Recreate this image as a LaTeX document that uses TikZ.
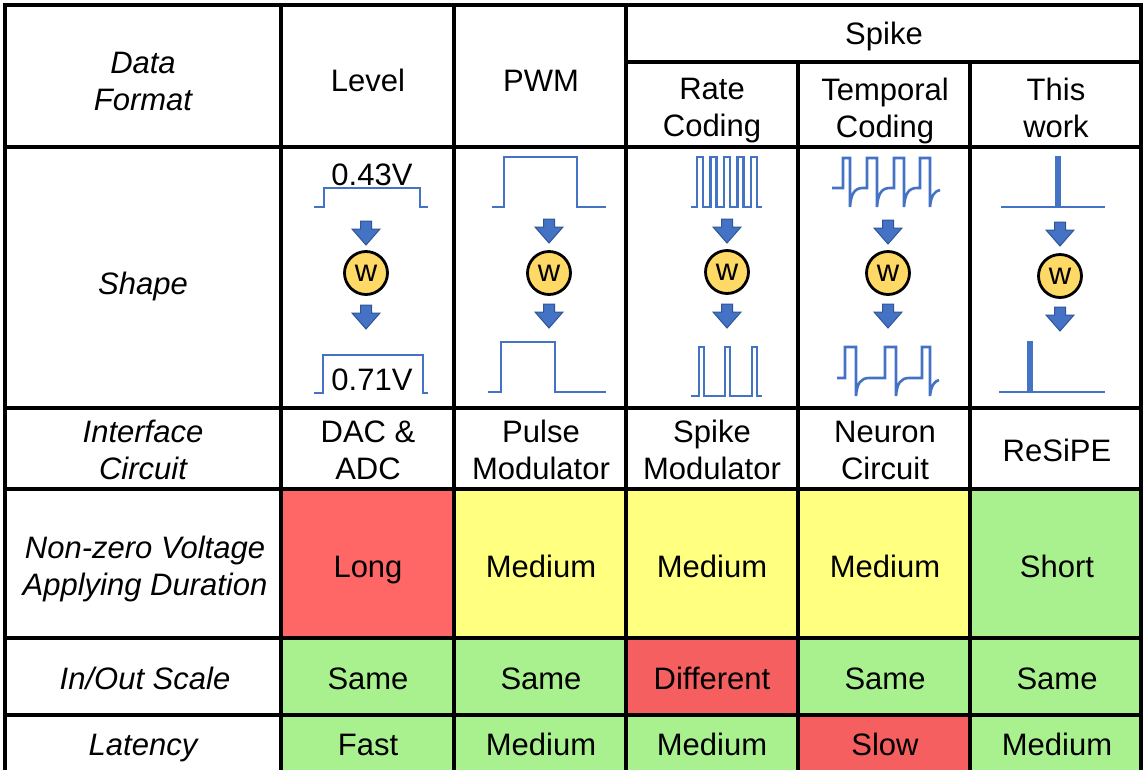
\documentclass[tikz,border=0pt]{standalone}
\usepackage{fontspec}
\setmainfont{Liberation Sans}
\definecolor{cellred}{RGB}{255,102,102}
\definecolor{cellredb}{RGB}{245,95,95}
\definecolor{cellyellow}{RGB}{255,255,128}
\definecolor{cellgreen}{RGB}{169,241,143}
\definecolor{waveblue}{RGB}{68,114,196}
\definecolor{arrowedge}{RGB}{47,85,151}
\definecolor{weightfill}{RGB}{255,217,102}
\newcommand\cellfont{\fontsize{31}{37}\selectfont}
\tikzset{
  grid/.style={line width=4pt, line cap=rect},
  celltext/.style={font=\cellfont, inner sep=0pt},
  one/.style={celltext, text height=22.2pt, text depth=0pt},
  two/.style={celltext, align=center},
  lab/.style={font=\cellfont\itshape},
  wave/.style={draw=waveblue, line width=2.6pt, line join=miter},
  blockarrow/.style={fill=waveblue, draw=arrowedge, line width=1pt, line join=miter},
  weight/.style={circle, fill=weightfill, draw=black, line width=2.8pt,
    minimum size=43pt, inner sep=0pt, font=\cellfont},
  dnarrow/.pic={\filldraw[blockarrow] (-5.5,0) -- (5.5,0) -- (5.5,8) -- (14,8)
    -- (0,24) -- (-14,8) -- (-5.5,8) -- cycle;}
}
\begin{document}
\begin{tikzpicture}[x=1pt,y=-1pt]
\useasboundingbox (0,0) rectangle (1144,769);
\clip (0,0) rectangle (1144,769);
\fill[white] (0,0) rectangle (1144,769);

% coloured rating cells
\fill[cellred]    (281,489) rectangle (454,638);
\fill[cellyellow] (454,489) rectangle (970,638);
\fill[cellgreen]  (970,489) rectangle (1141,638);
\fill[cellgreen]  (281,638) rectangle (1141,775);
\fill[cellredb]   (626,638) rectangle (798,715);
\fill[cellredb]   (798,715) rectangle (970,775);

% table rules
\draw[grid] (5,4.5) -- (1141,4.5);
\draw[grid] (5,4.5) -- (5,775);
\draw[grid] (1141,4.5) -- (1141,775);
\draw[grid] (281,4.5) -- (281,775);
\draw[grid] (454,4.5) -- (454,775);
\draw[grid] (626,4.5) -- (626,775);
\draw[grid] (798,62) -- (798,775);
\draw[grid] (970,62) -- (970,775);
\draw[grid] (626,62) -- (1141,62);
\foreach \r in {147,408,489,638,715} \draw[grid] (5,\r) -- (1141,\r);

% header
\node[two,lab] (hdr) at (143,81) {Data\\Format};
\node[one] (lvl) at (368,80) {Level};
\node[one] (pwm) at (541,80) {PWM};
\node[one] (spike) at (884,33) {Spike};
\node[two] (rate) at (712,110.5) {Rate\\Coding};
\node[two] (temporal) at (885,110.5) {Temporal\\Coding};
\node[two] (thiswork) at (1056,107.5) {This\\work};

% shape row
\node[one,lab] (shape) at (143,283) {Shape};

% level
\draw[wave] (314,207) -- (324,207) -- (324,188) -- (420,188) -- (420,207) -- (428,207);
\node[one] (vin) at (372,174) {0.43V};
\pic at (366,221) {dnarrow};
\node[weight] (w1) at (366,273) {w};
\pic at (366,305) {dnarrow};
\draw[wave] (314,393) -- (323,393) -- (323,355) -- (423,355) -- (423,393) -- (428,393);
\node[one] (vout) at (372,379) {0.71V};

% pwm
\draw[wave] (492,207) -- (504,207) -- (504,157) -- (577,157) -- (577,207) -- (606,207);
\pic at (549,219) {dnarrow};
\node[weight] (w2) at (549,273) {w};
\pic at (549,304) {dnarrow};
\draw[wave] (488,392) -- (501,392) -- (501,342) -- (555,342) -- (555,392) -- (606,392);

% rate coding
\draw[wave] (691,207) -- (697,207) -- (697,157) -- (703,157) -- (703,207)
  -- (710.5,207) -- (710.5,157) -- (716.5,157) -- (716.5,207)
  -- (724,207) -- (724,157) -- (730,157) -- (730,207)
  -- (737.5,207) -- (737.5,157) -- (743.5,157) -- (743.5,207)
  -- (751,207) -- (751,157) -- (757,157) -- (757,207) -- (762,207);
\pic at (727,219) {dnarrow};
\node[weight] (w3) at (727,272) {w};
\pic at (727,304) {dnarrow};
\draw[wave] (691,396) -- (699,396) -- (699,347) -- (704,347) -- (704,396)
  -- (725,396) -- (725,347) -- (730,347) -- (730,396)
  -- (752,396) -- (752,347) -- (757,347) -- (757,396) -- (762,396);

% temporal coding
\draw[wave] (832,188) -- (843,188) -- (843,158) -- (850,158) -- (850,207)
  .. controls (851,193) and (855,188) .. (863,188)
  -- (867,188) -- (867,158) -- (877,158) -- (877,207)
  .. controls (878,193) and (882,188) .. (890,188)
  -- (894,188) -- (894,158) -- (904,158) -- (904,207)
  .. controls (905,193) and (909,188) .. (917,188)
  -- (920,188) -- (920,158) -- (930,158) -- (930,207)
  .. controls (931,195) and (935,191) .. (940,190);
\pic at (888,220) {dnarrow};
\node[weight] (w4) at (888,273) {w};
\pic at (888,304) {dnarrow};
\draw[wave] (837,378) -- (845,378) -- (845,347) -- (856,347) -- (856,396)
  .. controls (857,383) and (861,378) .. (869,378)
  -- (885,378) -- (885,347) -- (896,347) -- (896,396)
  .. controls (897,383) and (901,378) .. (909,378)
  -- (922,378) -- (922,347) -- (930,347) -- (930,396)
  .. controls (931,385) and (935,381) .. (939,380);

% this work
\draw[wave] (1001,207) -- (1056.5,207) -- (1056.5,157) -- (1059.5,157) -- (1059.5,207) -- (1105,207);
\pic at (1060,222) {dnarrow};
\node[weight] (w5) at (1060,276) {w};
\pic at (1060,307) {dnarrow};
\draw[wave] (999,392) -- (1028.5,392) -- (1028.5,342) -- (1031.5,342) -- (1031.5,392) -- (1105,392);

% interface row
\node[two,lab] (iface) at (143,450) {Interface\\Circuit};
\node[two] (dac) at (368,450) {DAC \&\\ADC};
\node[two] (pulse) at (541,450) {Pulse\\Modulator};
\node[two] (spkmod) at (712,450) {Spike\\Modulator};
\node[two] (neuron) at (885,450) {Neuron\\Circuit};
\node[one] (resipe) at (1057,450) {ReSiPE};

% duration row
\node[two,lab] (nonzero) at (145,569) {Non-zero Voltage\\Applying Duration};
\node[one] (long) at (368,566) {Long};
\node[one] (medA) at (541,566) {Medium};
\node[one] (medB) at (712,566) {Medium};
\node[one] (medC) at (885,566) {Medium};
\node[one] (short) at (1057,566) {Short};

% scale row
\node[one,lab] (scale) at (145,678) {In/Out Scale};
\node[one] (sameA) at (368,678) {Same};
\node[one] (sameB) at (541,678) {Same};
\node[one] (diff) at (712,678) {Different};
\node[one] (sameC) at (885,678) {Same};
\node[one] (sameD) at (1057,678) {Same};

% latency row
\node[one,lab] (lat) at (143,744) {Latency};
\node[one] (fast) at (368,744) {Fast};
\node[one] (medD) at (541,744) {Medium};
\node[one] (medE) at (712,744) {Medium};
\node[one] (slow) at (885,744) {Slow};
\node[one] (medF) at (1057,744) {Medium};
\end{tikzpicture}
\end{document}
